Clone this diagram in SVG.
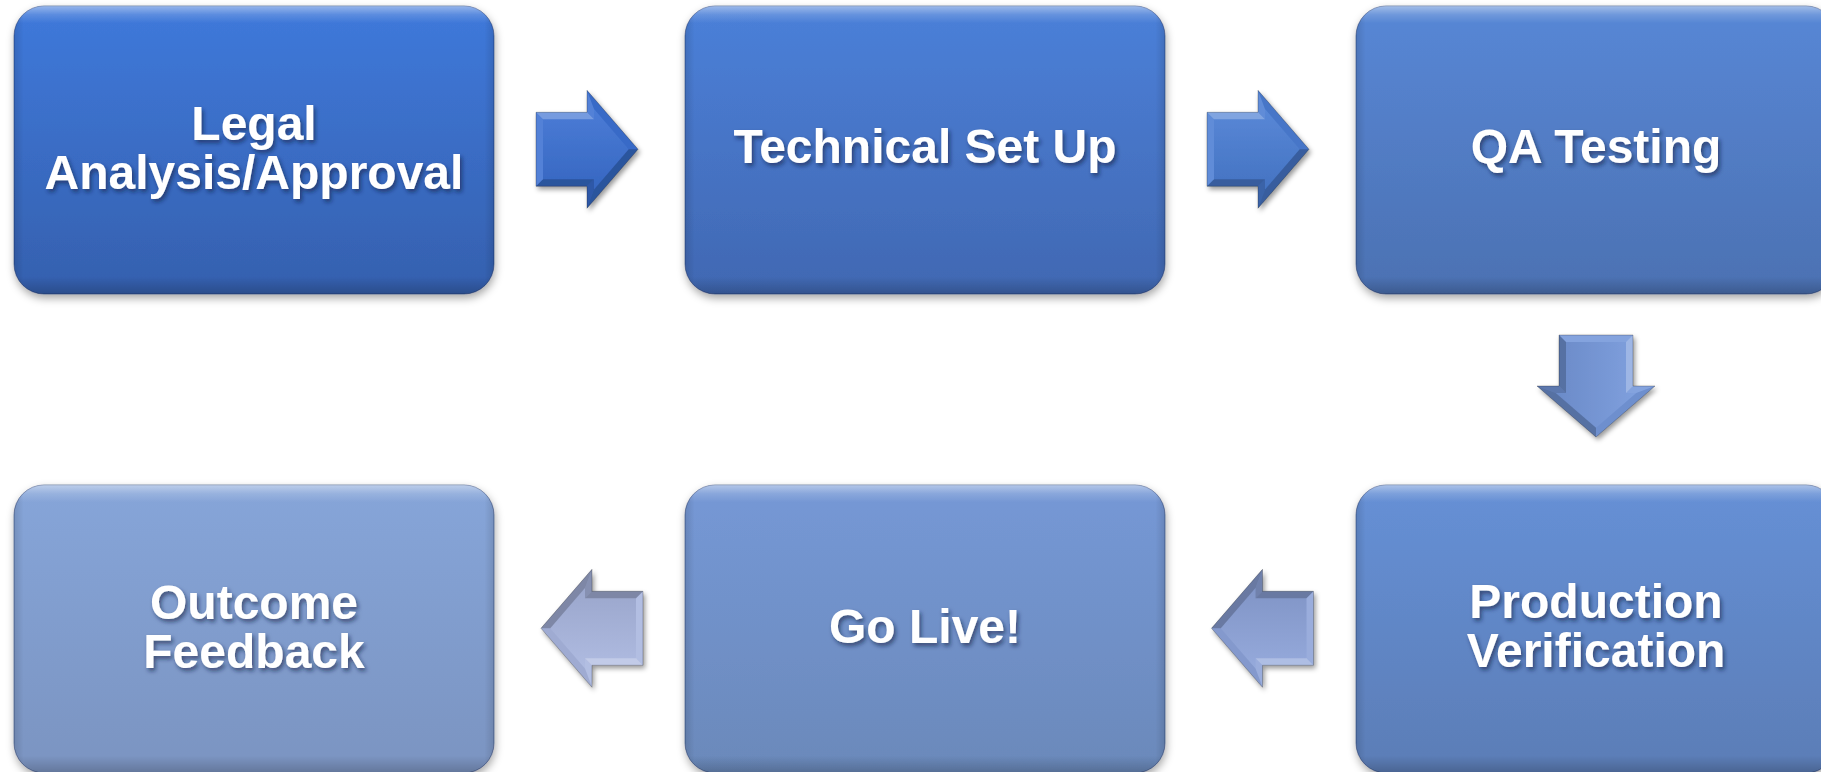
<svg xmlns="http://www.w3.org/2000/svg" xmlns:xlink="http://www.w3.org/1999/xlink" width="1821" height="772" viewBox="0 0 1821 772">
  <style>
    .label { font-family: "Liberation Sans", Arial, sans-serif; font-weight: bold; font-size: 48px; fill: #ffffff; text-anchor: middle; }
    .box { stroke: rgba(20,40,90,0.45); stroke-width: 1; }
    .txt { filter: url(#textShadow); }
  </style>
  <defs>
    <filter id="boxShadow" x="-10%" y="-10%" width="120%" height="125%">
      <feDropShadow dx="1" dy="4" stdDeviation="4" flood-color="#000" flood-opacity="0.35"/>
    </filter>
    <filter id="arrowShadow" x="-30%" y="-30%" width="160%" height="160%">
      <feDropShadow dx="2" dy="3" stdDeviation="2.5" flood-color="#000" flood-opacity="0.4"/>
    </filter>
    <filter id="textShadow" x="-10%" y="-20%" width="120%" height="150%">
      <feDropShadow dx="2" dy="3" stdDeviation="2" flood-color="#0a1a40" flood-opacity="0.6"/>
    </filter>

    <!-- box fills, lighter at the top -->
    <linearGradient id="g1" x1="0" y1="0" x2="0" y2="1"><stop offset="0" stop-color="#3f79db"/><stop offset="1" stop-color="#3560ae"/></linearGradient>
    <linearGradient id="g2" x1="0" y1="0" x2="0" y2="1"><stop offset="0" stop-color="#4b80d9"/><stop offset="1" stop-color="#4168b2"/></linearGradient>
    <linearGradient id="g3" x1="0" y1="0" x2="0" y2="1"><stop offset="0" stop-color="#5787d6"/><stop offset="1" stop-color="#4c71b2"/></linearGradient>
    <linearGradient id="g4" x1="0" y1="0" x2="0" y2="1"><stop offset="0" stop-color="#6690d6"/><stop offset="1" stop-color="#5b7db6"/></linearGradient>
    <linearGradient id="g5" x1="0" y1="0" x2="0" y2="1"><stop offset="0" stop-color="#7598d6"/><stop offset="1" stop-color="#6b89ba"/></linearGradient>
    <linearGradient id="g6" x1="0" y1="0" x2="0" y2="1"><stop offset="0" stop-color="#86a5d9"/><stop offset="1" stop-color="#7b94c1"/></linearGradient>

    <!-- bevel lighting on the boxes -->
    <linearGradient id="bevelV" x1="0" y1="0" x2="0" y2="1">
      <stop offset="0" stop-color="#ffffff" stop-opacity="0.45"/>
      <stop offset="0.03" stop-color="#ffffff" stop-opacity="0.15"/>
      <stop offset="0.06" stop-color="#ffffff" stop-opacity="0"/>
      <stop offset="0.94" stop-color="#000000" stop-opacity="0"/>
      <stop offset="1" stop-color="#000000" stop-opacity="0.2"/>
    </linearGradient>
    <linearGradient id="bevelH" x1="0" y1="0" x2="1" y2="0">
      <stop offset="0" stop-color="#000000" stop-opacity="0.12"/>
      <stop offset="0.02" stop-color="#000000" stop-opacity="0"/>
      <stop offset="0.98" stop-color="#000000" stop-opacity="0"/>
      <stop offset="1" stop-color="#000000" stop-opacity="0.12"/>
    </linearGradient>

    <!-- block arrow, pointing right, head base at the origin -->
    <path id="arrowOutline" d="M-51,-37 L0,-37 L0,-59 L51,0 L0,59 L0,37 L-51,37 Z"/>
    <linearGradient id="arrowFace" x1="0" y1="0" x2="0" y2="1">
      <stop offset="0" stop-color="#ffffff" stop-opacity="0.08"/>
      <stop offset="1" stop-color="#000000" stop-opacity="0.08"/>
    </linearGradient>
    <g id="arrowBevel">
      <path d="M-44,-30 L7,-30 L7,-40.2 L41.7,0 L7,40.2 L7,30 L-44,30 Z" fill="url(#arrowFace)"/>
      <path d="M-51,-37 L-51,37 L-44,30 L-44,-30 Z" fill="#ffffff" fill-opacity="0.12"/>
      <path d="M-51,-37 L0,-37 L7,-30 L-44,-30 Z" fill="#ffffff" fill-opacity="0.3"/>
      <path d="M0,-37 L0,-59 L7,-40.2 L7,-30 Z" fill="#ffffff" fill-opacity="0.12"/>
      <path d="M0,-59 L51,0 L41.7,0 L7,-40.2 Z" fill="#000000" fill-opacity="0.05"/>
      <path d="M51,0 L0,59 L7,40.2 L41.7,0 Z" fill="#000000" fill-opacity="0.25"/>
      <path d="M0,59 L0,37 L7,30 L7,40.2 Z" fill="#000000" fill-opacity="0.2"/>
      <path d="M0,37 L-51,37 L-44,30 L7,30 Z" fill="#000000" fill-opacity="0.25"/>
      <use xlink:href="#arrowOutline" fill="none" stroke="#000000" stroke-opacity="0.3" stroke-width="0.8"/>
    </g>
  </defs>

  <rect width="1821" height="772" fill="#ffffff"/>

  <!-- connectors: bevelled block arrows between the steps -->
  <g id="connectors">
    <g filter="url(#arrowShadow)">
      <g transform="translate(587,149.3)"><use xlink:href="#arrowOutline" fill="#3b70d2"/><use xlink:href="#arrowBevel"/></g>
    </g>
    <g filter="url(#arrowShadow)">
      <g transform="translate(1258,149.3)"><use xlink:href="#arrowOutline" fill="#4a7dd3"/><use xlink:href="#arrowBevel"/></g>
    </g>
    <g filter="url(#arrowShadow)">
      <g transform="translate(1596,386) rotate(90)"><use xlink:href="#arrowOutline" fill="#7497da"/><use xlink:href="#arrowBevel"/></g>
    </g>
    <g filter="url(#arrowShadow)">
      <g transform="translate(1262.5,628.3) rotate(180)"><use xlink:href="#arrowOutline" fill="#8ca2d8"/><use xlink:href="#arrowBevel"/></g>
    </g>
    <g filter="url(#arrowShadow)">
      <g transform="translate(592,628.3) rotate(180)"><use xlink:href="#arrowOutline" fill="#a8b5de"/><use xlink:href="#arrowBevel"/></g>
    </g>
  </g>

  <!-- step 1 -->
  <g id="node-legal">
    <rect class="box" x="14" y="6" width="480" height="288" rx="30" fill="url(#g1)" filter="url(#boxShadow)"/>
    <rect x="14" y="6" width="480" height="288" rx="30" fill="url(#bevelV)"/>
    <rect x="14" y="6" width="480" height="288" rx="30" fill="url(#bevelH)"/>
    <g class="txt">
      <text class="label" x="254" y="140">Legal</text>
      <text class="label" x="254" y="189">Analysis/Approval</text>
    </g>
  </g>

  <!-- step 2 -->
  <g id="node-setup">
    <rect class="box" x="685" y="6" width="480" height="288" rx="30" fill="url(#g2)" filter="url(#boxShadow)"/>
    <rect x="685" y="6" width="480" height="288" rx="30" fill="url(#bevelV)"/>
    <rect x="685" y="6" width="480" height="288" rx="30" fill="url(#bevelH)"/>
    <g class="txt">
      <text class="label" x="925" y="163">Technical Set Up</text>
    </g>
  </g>

  <!-- step 3 -->
  <g id="node-qa">
    <rect class="box" x="1356" y="6" width="480" height="288" rx="30" fill="url(#g3)" filter="url(#boxShadow)"/>
    <rect x="1356" y="6" width="480" height="288" rx="30" fill="url(#bevelV)"/>
    <rect x="1356" y="6" width="480" height="288" rx="30" fill="url(#bevelH)"/>
    <g class="txt">
      <text class="label" x="1596" y="163">QA Testing</text>
    </g>
  </g>

  <!-- step 4 -->
  <g id="node-production">
    <rect class="box" x="1356" y="485" width="480" height="288" rx="30" fill="url(#g4)" filter="url(#boxShadow)"/>
    <rect x="1356" y="485" width="480" height="288" rx="30" fill="url(#bevelV)"/>
    <rect x="1356" y="485" width="480" height="288" rx="30" fill="url(#bevelH)"/>
    <g class="txt">
      <text class="label" x="1596" y="618">Production</text>
      <text class="label" x="1596" y="667">Verification</text>
    </g>
  </g>

  <!-- step 5 -->
  <g id="node-golive">
    <rect class="box" x="685" y="485" width="480" height="288" rx="30" fill="url(#g5)" filter="url(#boxShadow)"/>
    <rect x="685" y="485" width="480" height="288" rx="30" fill="url(#bevelV)"/>
    <rect x="685" y="485" width="480" height="288" rx="30" fill="url(#bevelH)"/>
    <g class="txt">
      <text class="label" x="925" y="643">Go Live!</text>
    </g>
  </g>

  <!-- step 6 -->
  <g id="node-feedback">
    <rect class="box" x="14" y="485" width="480" height="288" rx="30" fill="url(#g6)" filter="url(#boxShadow)"/>
    <rect x="14" y="485" width="480" height="288" rx="30" fill="url(#bevelV)"/>
    <rect x="14" y="485" width="480" height="288" rx="30" fill="url(#bevelH)"/>
    <g class="txt">
      <text class="label" x="254" y="619">Outcome</text>
      <text class="label" x="254" y="668">Feedback</text>
    </g>
  </g>
</svg>
